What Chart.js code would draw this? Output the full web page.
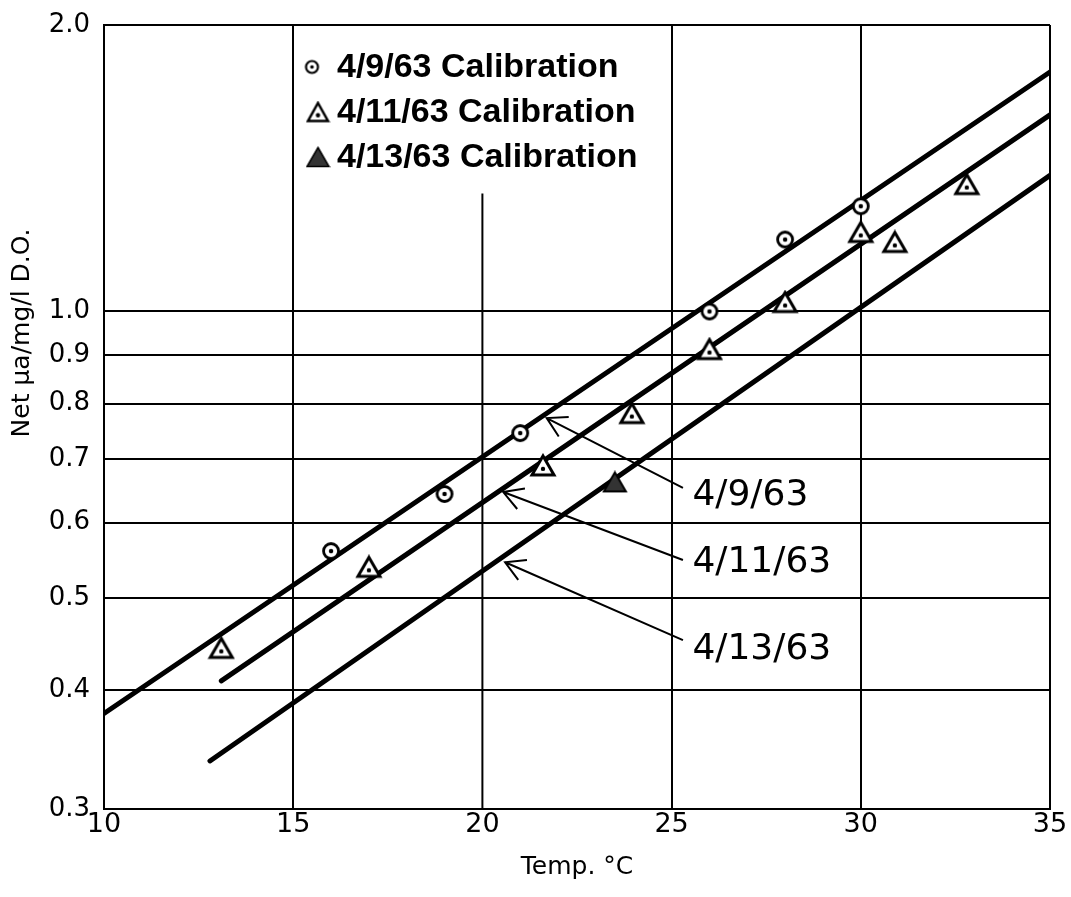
<!DOCTYPE html>
<html>
<head>
<meta charset="utf-8">
<script src="https://cdn.jsdelivr.net/npm/chart.js@4"></script>
<style>
  html, body { margin: 0; padding: 0; background: #fff; }
  #wrap { width: 1071px; height: 897px; position: relative; }
</style>
</head>
<body>
<div id="wrap"><canvas id="chart"></canvas></div>
<script>
// values
const xTicks = [10, 15, 20, 25, 30, 35];
const yTicks = [0.3, 0.4, 0.5, 0.6, 0.7, 0.8, 0.9, 1.0, 2.0];

const apr9Temp = [16, 19, 21, 26, 28, 30];
const apr9Val = [0.56, 0.643, 0.745, 1.0, 1.19, 1.29];

const apr11Temp = [13.1, 17, 21.6, 23.95, 26, 28, 30, 30.9, 32.8];
const apr11Val = [0.443, 0.539, 0.689, 0.782, 0.913, 1.023, 1.212, 1.183, 1.361];

const apr13Temp = [23.5];
const apr13Val = [0.662];

// fitted lines, end points
const fit9Temp = [10, 35];
const fit9Val = [0.378, 1.785];
const fit11Temp = [13.1, 35];
const fit11Val = [0.409, 1.609];
const fit13Temp = [12.8, 35];
const fit13Val = [0.337, 1.39];

const legendLabels = ['4/9/63 Calibration', '4/11/63 Calibration', '4/13/63 Calibration'];
const lineLabels = ['4/9/63', '4/11/63', '4/13/63'];

// line labels and their arrows, in (temp, value)
const labelAt = [[25.55, 0.641], [25.55, 0.544], [25.55, 0.441]];
const arrowFrom = [[25.3, 0.6525], [25.3, 0.548], [25.3, 0.4515]];
const arrowTo = [[21.7, 0.7725], [20.55, 0.646], [20.6, 0.545]];

const toPts = (xs, ys) => xs.map((x, i) => ({ x: x, y: ys[i] }));

function circleDot(r, lw) {
  const s = Math.ceil(2 * r + lw + 2);
  const c = document.createElement('canvas');
  c.width = s; c.height = s;
  const g = c.getContext('2d');
  g.beginPath();
  g.arc(s / 2, s / 2, r, 0, Math.PI * 2);
  g.fillStyle = '#fff';
  g.fill();
  g.lineWidth = lw;
  g.strokeStyle = '#000';
  g.stroke();
  g.beginPath();
  g.arc(s / 2, s / 2, r * 0.3, 0, Math.PI * 2);
  g.fillStyle = '#000';
  g.fill();
  return c;
}

function triangle(w, h, lw, filled) {
  const c = document.createElement('canvas');
  c.width = w + lw * 2; c.height = h + lw * 2;
  const g = c.getContext('2d');
  const cx = c.width / 2;
  g.beginPath();
  g.moveTo(cx, lw);
  g.lineTo(c.width - lw, h + lw);
  g.lineTo(lw, h + lw);
  g.closePath();
  g.fillStyle = filled ? '#333' : '#fff';
  g.fill();
  g.lineWidth = lw;
  g.lineJoin = 'miter';
  g.strokeStyle = '#000';
  g.stroke();
  if (!filled) {
    g.beginPath();
    g.arc(cx, lw + h * 0.68, 2.2, 0, Math.PI * 2);
    g.fillStyle = '#000';
    g.fill();
  }
  return c;
}

const mkCircle = circleDot(7.5, 2.8);
const mkTri = triangle(22, 19, 3, false);
const mkTriFill = triangle(22, 19, 2, true);
const lgCircle = circleDot(6, 2.2);
const lgTri = triangle(20, 18, 2.5, false);
const lgTriFill = triangle(22, 19, 1.5, true);

const extras = {
  id: 'extras',
  beforeDatasetsDraw(chart) {
    const ctx = chart.ctx;
    const xs = chart.scales.x, ys = chart.scales.y;
    // the 20 deg line stops under the key
    ctx.save();
    ctx.strokeStyle = '#000';
    ctx.lineWidth = 2;
    ctx.beginPath();
    ctx.moveTo(xs.getPixelForValue(20), ys.getPixelForValue(1.33));
    ctx.lineTo(xs.getPixelForValue(20), chart.chartArea.bottom);
    ctx.stroke();
    ctx.restore();
  },
  afterDraw(chart) {
    const ctx = chart.ctx;
    const xs = chart.scales.x, ys = chart.scales.y;
    const area = chart.chartArea;
    ctx.save();

    // key
    const marks = [lgCircle, lgTri, lgTriFill];
    ctx.font = 'bold 34px "Liberation Sans", Arial, sans-serif';
    ctx.fillStyle = '#000';
    ctx.textBaseline = 'middle';
    ctx.textAlign = 'left';
    legendLabels.forEach((t, i) => {
      const y = area.top + 42 + i * 45;
      const m = marks[i];
      const mx = i === 0 ? area.left + 208 : area.left + 214;
      ctx.drawImage(m, mx - m.width / 2, y - m.height / 2);
      ctx.fillText(t, area.left + 233, y + 1);
    });

    // line labels with arrows
    ctx.font = '36px "DejaVu Sans", sans-serif';
    ctx.strokeStyle = '#000';
    ctx.lineWidth = 2;
    lineLabels.forEach((t, i) => {
      const x0 = xs.getPixelForValue(arrowFrom[i][0]), y0 = ys.getPixelForValue(arrowFrom[i][1]);
      const x1 = xs.getPixelForValue(arrowTo[i][0]), y1 = ys.getPixelForValue(arrowTo[i][1]);
      ctx.beginPath();
      ctx.moveTo(x0, y0);
      ctx.lineTo(x1, y1);
      const a = Math.atan2(y0 - y1, x0 - x1);
      ctx.moveTo(x1 + 22 * Math.cos(a - 0.52), y1 + 22 * Math.sin(a - 0.52));
      ctx.lineTo(x1, y1);
      ctx.lineTo(x1 + 22 * Math.cos(a + 0.52), y1 + 22 * Math.sin(a + 0.52));
      ctx.stroke();
      ctx.fillText(t, xs.getPixelForValue(labelAt[i][0]), ys.getPixelForValue(labelAt[i][1]));
    });

    // y axis title
    ctx.font = '25px "DejaVu Sans", sans-serif';
    ctx.textAlign = 'center';
    ctx.translate(22, 333);
    ctx.rotate(-Math.PI / 2);
    ctx.fillText('Net \u03bca/mg/l D.O.', 0, 0);
    ctx.restore();
  }
};

Chart.defaults.font.family = '"DejaVu Sans", sans-serif';
Chart.defaults.color = '#000';

const lineStyle = { showLine: true, borderColor: '#000', borderWidth: 5, pointRadius: 0, borderCapStyle: 'round', order: 2 };

new Chart(document.getElementById('chart').getContext('2d'), {
  type: 'scatter',
  data: {
    datasets: [
      Object.assign({ label: 'fit 4/9/63', data: toPts(fit9Temp, fit9Val) }, lineStyle),
      Object.assign({ label: 'fit 4/11/63', data: toPts(fit11Temp, fit11Val) }, lineStyle),
      Object.assign({ label: 'fit 4/13/63', data: toPts(fit13Temp, fit13Val) }, lineStyle),
      { label: legendLabels[0], data: toPts(apr9Temp, apr9Val), pointStyle: mkCircle, order: 1 },
      { label: legendLabels[1], data: toPts(apr11Temp, apr11Val), pointStyle: mkTri, order: 1 },
      { label: legendLabels[2], data: toPts(apr13Temp, apr13Val), pointStyle: mkTriFill, order: 1 }
    ]
  },
  options: {
    responsive: true,
    maintainAspectRatio: false,
    animation: false,
    layout: { padding: { top: 25, right: 21, left: 0, bottom: 0 } },
    plugins: { legend: { display: false }, tooltip: { enabled: false } },
    scales: {
      x: {
        type: 'linear', min: 10, max: 35,
        afterBuildTicks: s => { s.ticks = xTicks.map(v => ({ value: v })); },
        afterFit: s => { s.height = 88; s.paddingLeft = 0; s.paddingRight = 0; },
        ticks: { font: { size: 27 }, padding: 0, maxRotation: 0 },
        title: { display: true, text: 'Temp. \u00b0C', font: { size: 25 }, padding: { top: 0, bottom: 15 } },
        grid: { color: c => (c.tick && c.tick.value === 20) ? 'rgba(0,0,0,0)' : '#000', lineWidth: 2, drawTicks: false },
        border: { color: '#000', width: 2 }
      },
      y: {
        type: 'logarithmic', min: 0.3, max: 2.0,
        afterBuildTicks: s => { s.ticks = yTicks.map(v => ({ value: v })); },
        afterFit: s => { s.width = 104; s.paddingTop = 0; s.paddingBottom = 0; },
        ticks: { font: { size: 26 }, padding: 14, callback: v => Number(v).toFixed(1) },
        grid: { color: '#000', lineWidth: 2, drawTicks: false },
        border: { color: '#000', width: 2 }
      }
    }
  },
  plugins: [extras]
});
</script>
</body>
</html>
